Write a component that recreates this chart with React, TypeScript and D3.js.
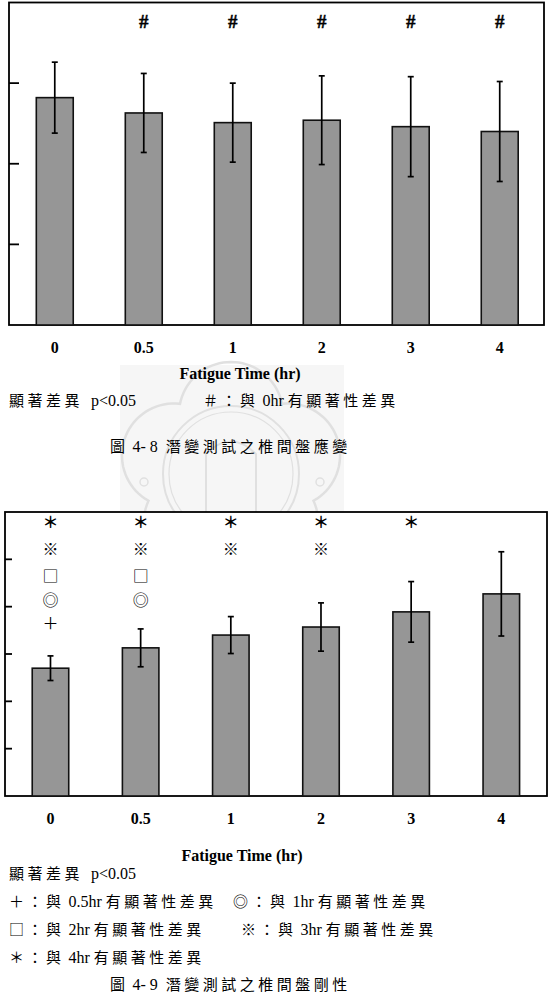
import { useEffect, useRef } from 'react';
import * as d3 from 'd3';

// fatigue time categories (x axis)
const times = ['0', '0.5', '1', '2', '3', '4'];

// 圖4-8 椎間盤應變 (mean / sd, arbitrary units)
const strainMean = [2.82, 2.63, 2.51, 2.54, 2.46, 2.4];
const strainSd = [0.44, 0.49, 0.49, 0.55, 0.62, 0.62];
const strainTicks = [1, 2, 3];
const strainSigVs0 = ['0.5', '1', '2', '3', '4'];

// 圖4-9 椎間盤剛性
const stiffMean = [2.7, 3.13, 3.4, 3.57, 3.89, 4.27];
const stiffSd = [0.26, 0.4, 0.39, 0.51, 0.64, 0.89];
const stiffTicks = [1, 2, 3, 4, 5];
// marker rows above the bars, top to bottom
const stiffMarks = ['＊', '※', '□', '◎', '＋'];
const stiffSig = [
  ['0', '0.5', '1', '2', '3'], // vs 4hr
  ['0', '0.5', '1', '2'], // vs 3hr
  ['0', '0.5'], // vs 2hr
  ['0', '0.5'], // vs 1hr
  ['0'], // vs 0.5hr
];

const xTitle = 'Fatigue Time (hr)';
const noteText = '顯著差異  p<0.05';
const legend1 = '＃：與 0hr 有顯著性差異';
const caption1 = '圖 4- 8  潛變測試之椎間盤應變';
const legend2 = [
  ['＋：與 0.5hr 有顯著性差異', '◎：與 1hr 有顯著性差異'],
  ['□：與 2hr 有顯著性差異', '※：與 3hr 有顯著性差異'],
  ['＊：與 4hr 有顯著性差異'],
];
const caption2 = '圖 4- 9  潛變測試之椎間盤剛性';

const BAR_FILL = '#969696';
const cjkRe = /([\u2000-\u27ff\u3000-\u9fff\uff00-\uffef]+)/;

// mixed Chinese / Latin line: CJK in Noto Sans CJK, rest in a Times-like serif
function richText(g, str, x, y) {
  const t = g
    .append('text')
    .attr('x', x)
    .attr('y', y)
    .attr('fill', '#000')
    .style('white-space', 'pre');
  str
    .split(cjkRe)
    .filter((s) => s.length)
    .forEach((part) => {
      const cjk = cjkRe.test(part);
      t.append('tspan')
        .attr('font-family', cjk ? "'Noto Sans CJK TC'" : "'Liberation Serif'")
        .attr('font-size', cjk ? 15 : 16)
        .attr('letter-spacing', cjk ? 3.5 : 0)
        .text(part);
    });
  return t;
}

function drawPanel(g, { x, y, frameLeft, frameRight, mean, sd, ticks, tickLen }) {
  const yr = y.range();

  // white plot area + frame
  g.append('rect')
    .attr('x', frameLeft)
    .attr('y', yr[1])
    .attr('width', frameRight - frameLeft)
    .attr('height', yr[0] - yr[1])
    .attr('fill', '#fff')
    .attr('stroke', '#000')
    .attr('stroke-width', 1.8);

  // inward ticks on the left axis
  g.selectAll(null)
    .data(ticks)
    .join('line')
    .attr('x1', frameLeft)
    .attr('x2', frameLeft + tickLen)
    .attr('y1', (d) => y(d))
    .attr('y2', (d) => y(d))
    .attr('stroke', '#000')
    .attr('stroke-width', 1.8);

  // bars
  g.selectAll(null)
    .data(times)
    .join('rect')
    .attr('x', (d) => x(d))
    .attr('y', (d, i) => y(mean[i]))
    .attr('width', x.bandwidth())
    .attr('height', (d, i) => y(0) - y(mean[i]))
    .attr('fill', BAR_FILL)
    .attr('stroke', '#111')
    .attr('stroke-width', 1.6);

  // error bars
  const eb = g
    .selectAll(null)
    .data(times)
    .join('g')
    .attr('transform', (d) => `translate(${x(d) + x.bandwidth() / 2},0)`)
    .attr('stroke', '#000')
    .attr('stroke-width', 1.7);
  eb.append('line')
    .attr('y1', (d, i) => y(mean[i] + sd[i]))
    .attr('y2', (d, i) => y(mean[i] - sd[i]));
  eb.append('line')
    .attr('x1', -3)
    .attr('x2', 3)
    .attr('y1', (d, i) => y(mean[i] + sd[i]))
    .attr('y2', (d, i) => y(mean[i] + sd[i]));
  eb.append('line')
    .attr('x1', -3)
    .attr('x2', 3)
    .attr('y1', (d, i) => y(mean[i] - sd[i]))
    .attr('y2', (d, i) => y(mean[i] - sd[i]));

  // x tick labels
  g.selectAll(null)
    .data(times)
    .join('text')
    .attr('x', (d) => x(d) + x.bandwidth() / 2)
    .attr('y', y(0) + 28)
    .attr('text-anchor', 'middle')
    .attr('font-family', "'Liberation Serif'")
    .attr('font-weight', 'bold')
    .attr('font-size', 16)
    .text((d) => d);
}

// faint university seal behind the first figure's caption
function drawWatermark(g) {
  const cx = 231;
  const cy = 474;
  g.append('rect')
    .attr('x', 120)
    .attr('y', 365)
    .attr('width', 224)
    .attr('height', 150)
    .attr('fill', '#f6f6f6');
  const petals = d3.range(5).map((k) => {
    const a = -Math.PI / 2 + (k * 2 * Math.PI) / 5;
    return [Math.cos(a) * 60, Math.sin(a) * 60];
  });
  const rp = 52;
  const pts = d3.range(0, 361, 2).map((deg) => {
    const a = (deg * Math.PI) / 180;
    const u = [Math.cos(a), Math.sin(a)];
    let r = 0;
    petals.forEach(([px, py]) => {
      const b = u[0] * px + u[1] * py;
      const disc = rp * rp - (px * px + py * py) + b * b;
      if (disc >= 0) r = Math.max(r, b + Math.sqrt(disc));
    });
    return [cx + u[0] * r, cy + u[1] * r];
  });
  const seal = g.append('g').attr('fill', 'none').attr('stroke', '#e0e0e0');
  seal.append('path').attr('d', d3.line()(pts)).attr('stroke-width', 2.5);
  seal.append('circle').attr('cx', cx).attr('cy', cy).attr('r', 68).attr('stroke-width', 2);
  seal.append('circle').attr('cx', cx).attr('cy', cy).attr('r', 62).attr('stroke-width', 1.2);
  seal.append('circle').attr('cx', 144).attr('cy', 482).attr('r', 4).attr('stroke-width', 1.5);
  seal.append('circle').attr('cx', 320).attr('cy', 482).attr('r', 4).attr('stroke-width', 1.5);
  seal.append('path')
    .attr('d', `M${cx - 25},${cy + 60} L${cx - 25},${cy - 20} Q${cx},${cy - 45} ${cx + 25},${cy - 20} L${cx + 25},${cy + 60}`)
    .attr('stroke-width', 2);
}

const App = () => {
  const svgRef = useRef(null);

  useEffect(() => {
    const svg = d3.select(svgRef.current);
    svg.selectAll('*').remove();

    drawWatermark(svg.append('g'));

    // ---- figure 4-8 ----
    const x1 = d3.scaleBand().domain(times).range([10.5, 544]).paddingInner(0.585).paddingOuter(0.29);
    const y1 = d3.scaleLinear().domain([0, 4]).range([325, 2.5]);
    const g1 = svg.append('g');
    drawPanel(g1, {
      x: x1,
      y: y1,
      frameLeft: 9,
      frameRight: 544,
      mean: strainMean,
      sd: strainSd,
      ticks: strainTicks,
      tickLen: 10,
    });

    g1.selectAll(null)
      .data(strainSigVs0)
      .join('text')
      .attr('x', (d) => x1(d) + x1.bandwidth() / 2)
      .attr('y', 28)
      .attr('text-anchor', 'middle')
      .attr('font-family', "'Liberation Serif'")
      .attr('font-weight', 'bold')
      .attr('font-size', 19)
      .attr('stroke', '#000')
      .attr('stroke-width', 0.4)
      .text('#');

    g1.append('text')
      .attr('x', 240)
      .attr('y', 379)
      .attr('text-anchor', 'middle')
      .attr('font-family', "'Liberation Serif'")
      .attr('font-weight', 'bold')
      .attr('font-size', 16)
      .text(xTitle);
    richText(g1, noteText, 9, 406);
    richText(g1, legend1, 203, 406);
    richText(g1, caption1, 110, 452);

    // ---- figure 4-9 ----
    const x2 = d3.scaleBand().domain(times).range([5.4, 546.4]).paddingInner(0.595).paddingOuter(0.2975);
    const y2 = d3.scaleLinear().domain([0, 6]).range([796, 512]);
    const g2 = svg.append('g');
    drawPanel(g2, {
      x: x2,
      y: y2,
      frameLeft: 5,
      frameRight: 547,
      mean: stiffMean,
      sd: stiffSd,
      ticks: stiffTicks,
      tickLen: 7,
    });

    const rowY = [522, 549, 576, 600, 623];
    stiffMarks.forEach((m, r) => {
      g2.selectAll(null)
        .data(stiffSig[r])
        .join('text')
        .attr('x', (d) => x2(d) + x2.bandwidth() / 2)
        .attr('y', rowY[r])
        .attr('dy', '0.36em')
        .attr('text-anchor', 'middle')
        .attr('font-family', "'Noto Sans CJK TC'")
        .attr('font-size', 16)
        .attr('font-weight', r === 0 ? 'bold' : 'normal')
        .text(m);
    });

    g2.append('text')
      .attr('x', 242)
      .attr('y', 861)
      .attr('text-anchor', 'middle')
      .attr('font-family', "'Liberation Serif'")
      .attr('font-weight', 'bold')
      .attr('font-size', 16)
      .text(xTitle);
    richText(g2, noteText, 9, 879);
    const colX = [
      [9, 233],
      [9, 241],
      [9],
    ];
    legend2.forEach((row, r) => {
      row.forEach((s, c) => richText(g2, s, colX[r][c], 907 + r * 28));
    });
    richText(g2, caption2, 110, 990);
  }, []);

  return (
    <svg
      ref={svgRef}
      width={550}
      height={997}
      style={{ position: 'absolute', left: 0, top: 0, background: '#fff' }}
    />
  );
};

export default App;
